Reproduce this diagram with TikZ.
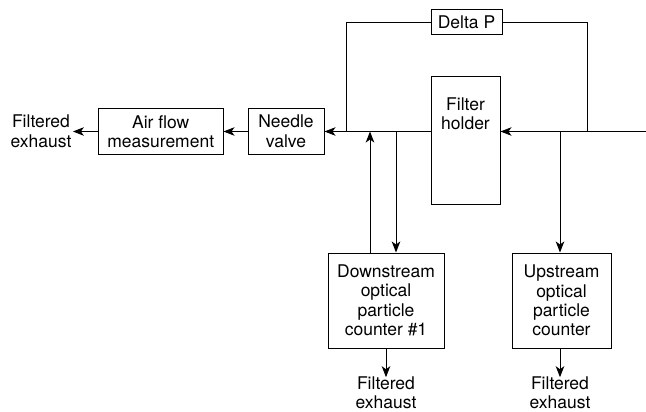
\documentclass[tikz,border=0pt]{standalone}
\usepackage{fontspec}
\setmainfont{TeX Gyre Heros}
\usetikzlibrary{arrows.meta}
\begin{document}
\begin{tikzpicture}[x=1pt,y=-1pt,
  line width=1pt,
  every node/.style={font=\fontsize{17.5}{19.5}\selectfont, inner sep=0pt, align=center},
  blk/.style={draw, rectangle, line width=1pt},
  lbl/.style={text=black},
  arr/.style={-{Stealth[length=11pt,width=8.5pt,inset=3pt]}},
  pipe/.style={draw}]
\useasboundingbox (0,0) rectangle (646,412);
% boxes
\node[lbl] (exL) at (41,131.5) {Filtered\\exhaust};
\node[blk, minimum width=124.5pt, minimum height=45pt] (air) at (160.75,131.5) {Air flow\\measurement};
\node[blk, minimum width=76pt, minimum height=45pt] (needle) at (286,131.5) {Needle\\valve};
\node[blk, minimum width=71pt, minimum height=25pt] (dp) at (466.5,22.5) {Delta P};
\node[blk, minimum width=69pt, minimum height=127pt] (filter) at (465.5,140.5) {};
\node[lbl] (filterlbl) at (465.5,114) {Filter\\holder};
\node[blk, minimum width=116pt, minimum height=95pt] (down) at (386,300.5) {Downstream\\optical\\particle\\counter \#1};
\node[blk, minimum width=99pt, minimum height=95pt] (up) at (561.5,300.5) {Upstream\\optical\\particle\\counter};
\node[lbl] (exD) at (386,393) {Filtered\\exhaust};
\node[lbl] (exU) at (560,393) {Filtered\\exhaust};
% junction coordinates
\coordinate (in) at (646,131.5);
\coordinate (j1) at (346,131.5);
\coordinate (j2) at (370,131.5);
\coordinate (j3) at (396,131.5);
\coordinate (j4) at (560,131.5);
\coordinate (j5) at (587,131.5);
% main flow
\draw[arr] (in) -- (filter.east |- in);
\draw[arr] (filter.west |- in) -- (needle.east);
\draw[arr] (needle.west) -- (air.east);
\draw[arr] (air.west) -- ([xshift=1pt]exL.east);
% delta P loop
\draw (j1) |- (dp.west);
\draw (dp.east) -| (j5);
% counters
\draw[arr] (down.north -| j2) -- (j2);
\draw[arr] (j3) -- (down.north -| j3);
\draw[arr] (j4) -- (up.north -| j4);
\draw[arr] (down.south) -- ([yshift=-1pt]exD.north);
\draw[arr] (up.south -| exU) -- ([yshift=-1pt]exU.north);
\end{tikzpicture}
\end{document}
